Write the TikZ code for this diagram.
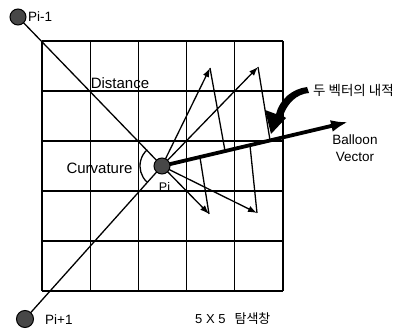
\documentclass[tikz,border=0pt]{standalone}
\usepackage{fontspec}
\setmainfont{Liberation Sans}
\newfontfamily\kr{Noto Sans CJK KR}
\usetikzlibrary{arrows.meta,calc}
\begin{document}
\begin{tikzpicture}[x=1pt,y=-1pt,
  gridline/.style={draw=black,line width=1.1pt},
  thinline/.style={draw=black,line width=1.3pt},
  vec/.style={draw=black,line width=1.3pt,-{Latex[length=9pt,width=6.5pt]}},
  balloon/.style={draw=black,line width=3.8pt,-{Latex[length=17pt,width=12pt]}},
  ptnode/.style={circle,draw=black,line width=1pt,fill=black!72,minimum size=16pt,inner sep=0pt},
  lbl/.style={inner sep=0pt,font=\fontsize{13.5}{15}\selectfont},
  biglbl/.style={inner sep=0pt,font=\fontsize{15}{17}\selectfont}]
\useasboundingbox (0,0) rectangle (397,331);
\fill[white] (0,0) rectangle (397,331);
% 5x5 grid
\foreach \x in {42,90.2,138.4,186.6,234.8,283}
  \draw[gridline] (\x,41) -- (\x,291);
\foreach \y in {41,91,141,191,241,291}
  \draw[gridline] (42,\y) -- (283,\y);
% key points
\coordinate (Pm) at (18,17);
\coordinate (Pc) at (162,166);
\coordinate (Pp) at (25,319);
\coordinate (A) at (210,68);
\coordinate (B) at (258,67);
\coordinate (C) at (209,214);
\coordinate (D) at (257,213);
\coordinate (T) at (348,122);
% lines to neighbouring points
\draw[thinline] (Pm) -- (Pc);
\draw[thinline] (Pc) -- (Pp);
% curvature arc
\draw[thinline] ($(Pc)+(134:22)$) arc[start angle=134,end angle=228,radius=22];
% candidate vectors
\draw[vec] (Pc) -- (A);
\draw[vec] (Pc) -- (B);
\draw[vec] (Pc) -- (C);
\draw[vec] (Pc) -- (D);
% projections onto balloon vector
\draw[thinline] (A) -- ($(Pc)!0.339!(T)$);
\draw[thinline] (B) -- ($(Pc)!0.581!(T)$);
\draw[thinline] (C) -- ($(Pc)!0.204!(T)$);
\draw[thinline] (D) -- ($(Pc)!0.473!(T)$);
% balloon vector
\draw[balloon] (Pc) -- (T);
% points
\node[ptnode] (pm) at (Pm) {};
\node[ptnode] (pc) at (Pc) {};
\node[ptnode,minimum size=17pt] (pp) at (Pp) {};
% curved pointer arrow
\fill[black] (271,134) -- (265,110) -- (276,114)
  .. controls (280,99) and (292,89) .. (307,87)
  -- (309,93) .. controls (296,94) and (287,104) .. (283,116)
  -- (286,118) -- cycle;
% labels
\node[lbl,anchor=west] (lpm) at (28,17) {Pi-1};
\node[lbl,anchor=west] (lpp) at (45,320) {Pi+1};
\node[lbl,font=\fontsize{12.5}{14}\selectfont] (lpc) at (164.5,186.5) {Pi};
\node[biglbl] (dist) at (120,83) {Distance};
\node[biglbl] (curv) at (99.5,168) {Curvature};
\node[lbl,align=center,font=\fontsize{13.5}{17}\selectfont] (bal) at (355,148.5) {Balloon\\Vector};
\node[inner sep=0pt,anchor=west,font=\fontsize{13.5}{15}\selectfont\kr] (dot) at (313,90) {두 벡터의 내적};
\node[inner sep=0pt,anchor=west,font=\fontsize{13}{15}\selectfont] (win) at (195,319) {5 X 5\hspace{9pt}{\kr 탐색창}};
\end{tikzpicture}
\end{document}
